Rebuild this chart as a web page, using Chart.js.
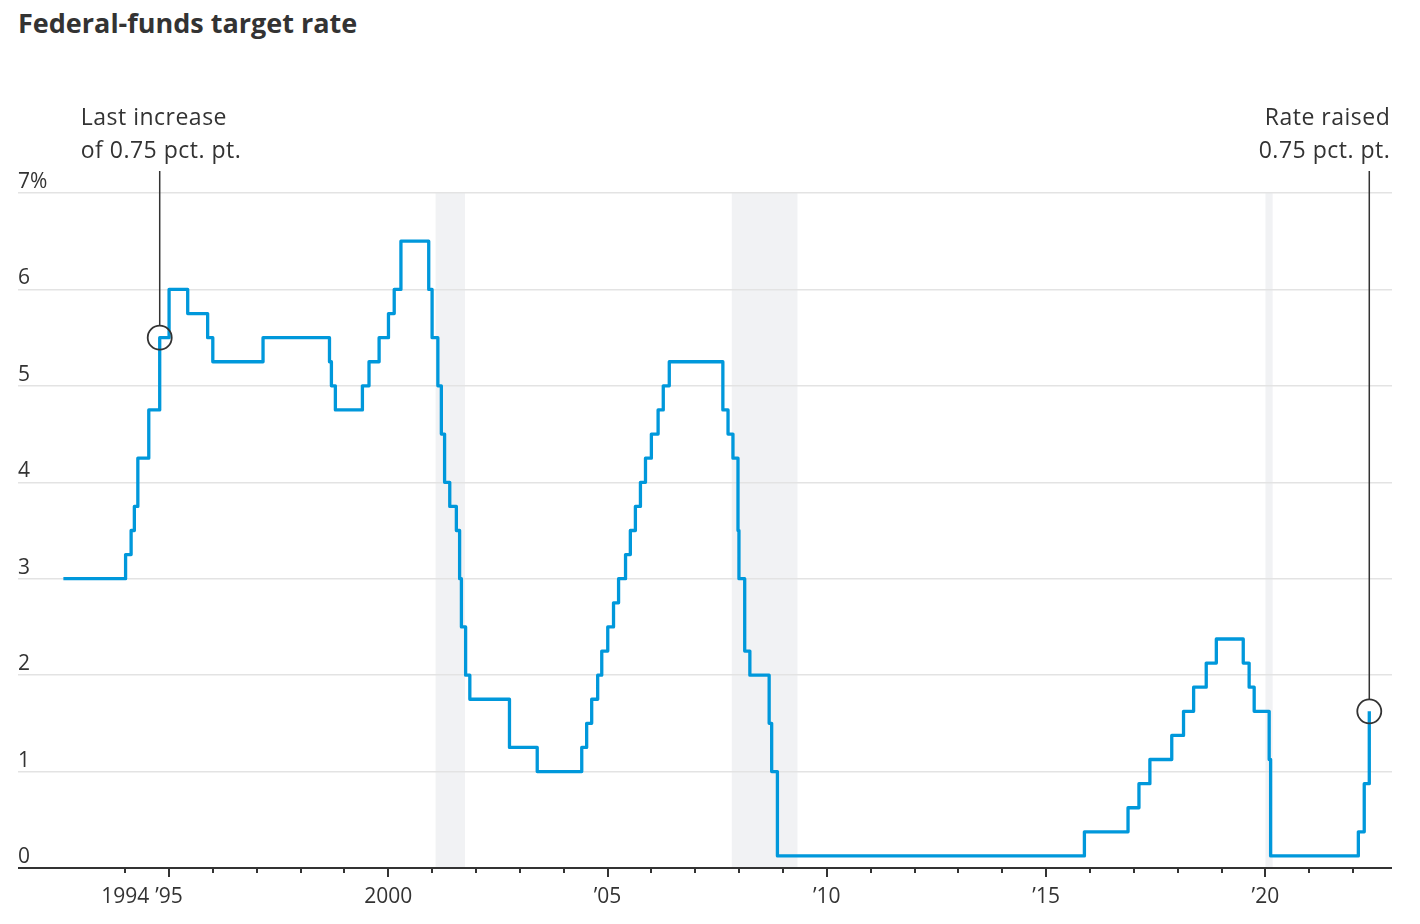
<!DOCTYPE html>
<html>
<head>
<meta charset="utf-8">
<title>Federal-funds target rate</title>
<script src="https://cdn.jsdelivr.net/npm/chart.js@4.4.1/dist/chart.umd.min.js"></script>
<style>
  html, body { margin: 0; padding: 0; background: #fff; }
  #wrap { position: relative; width: 1420px; height: 924px; }
  #chart { position: absolute; left: 0; top: 0; }
  h1 {
    position: absolute; left: 18px; top: 9px; margin: 0;
    font: 700 27px/27px "Open Sans", sans-serif; color: #333;
  }
</style>
</head>
<body>
<div id="wrap">
  <h1>Federal-funds target rate</h1>
  <canvas id="chart" width="1420" height="924"></canvas>
</div>
<script>
// target rate changes (after 2008: midpoint of the target range)
const RATE_DATES = [
  '1992-09-04', '1994-02-04', '1994-03-22', '1994-04-18', '1994-05-17', '1994-08-16',
  '1994-11-15', '1995-02-01', '1995-07-06', '1995-12-19', '1996-01-31', '1997-03-25',
  '1998-09-29', '1998-10-15', '1998-11-17', '1999-06-30', '1999-08-24', '1999-11-16',
  '2000-02-02', '2000-03-21', '2000-05-16', '2001-01-03', '2001-01-31', '2001-03-20',
  '2001-04-18', '2001-05-15', '2001-06-27', '2001-08-21', '2001-09-17', '2001-10-02',
  '2001-11-06', '2001-12-11', '2002-11-06', '2003-06-25', '2004-06-30', '2004-08-10',
  '2004-09-21', '2004-11-10', '2004-12-14', '2005-02-02', '2005-03-22', '2005-05-03',
  '2005-06-30', '2005-08-09', '2005-09-20', '2005-11-01', '2005-12-13', '2006-01-31',
  '2006-03-28', '2006-05-10', '2006-06-29', '2007-09-18', '2007-10-31', '2007-12-11',
  '2008-01-22', '2008-01-30', '2008-03-18', '2008-04-30', '2008-10-08', '2008-10-29',
  '2008-12-16', '2015-12-16', '2016-12-14', '2017-03-15', '2017-06-14', '2017-12-13',
  '2018-03-21', '2018-06-13', '2018-09-26', '2018-12-19', '2019-07-31', '2019-09-18',
  '2019-10-30', '2020-03-03', '2020-03-15', '2022-03-16', '2022-05-04', '2022-06-15'
];
const RATE_VALUES = [
  3.00, 3.25, 3.50, 3.75, 4.25, 4.75,
  5.50, 6.00, 5.75, 5.50, 5.25, 5.50,
  5.25, 5.00, 4.75, 5.00, 5.25, 5.50,
  5.75, 6.00, 6.50, 6.00, 5.50, 5.00,
  4.50, 4.00, 3.75, 3.50, 3.00, 2.50,
  2.00, 1.75, 1.25, 1.00, 1.25, 1.50,
  1.75, 2.00, 2.25, 2.50, 2.75, 3.00,
  3.25, 3.50, 3.75, 4.00, 4.25, 4.50,
  4.75, 5.00, 5.25, 4.75, 4.50, 4.25,
  3.50, 3.00, 2.25, 2.00, 1.50, 1.00,
  0.125, 0.375, 0.625, 0.875, 1.125, 1.375,
  1.625, 1.875, 2.125, 2.375, 2.125, 1.875,
  1.625, 1.125, 0.125, 0.375, 0.875, 1.625
];

// recessions (shaded)
const RECESSION_START = ['2001-03-01', '2007-12-01', '2020-02-01'];
const RECESSION_END = ['2001-11-01', '2009-06-01', '2020-04-01'];

// x axis
const TICK_YEARS = [1994, 1995, 1996, 1997, 1998, 1999, 2000, 2001, 2002, 2003, 2004, 2005,
  2006, 2007, 2008, 2009, 2010, 2011, 2012, 2013, 2014, 2015, 2016, 2017, 2018, 2019,
  2020, 2021, 2022];
const MAJOR_YEARS = [1995, 2000, 2005, 2010, 2015, 2020];
const LABEL_YEARS = [1994, 1995, 2000, 2005, 2010, 2015, 2020];
const LABEL_TEXT = ['1994', '\u201995', '2000', '\u201905', '\u201910', '\u201915', '\u201920'];

// y axis
const Y_TICKS = [0, 1, 2, 3, 4, 5, 6, 7];

// callouts
const NOTE_DATES = ['1994-11-15', '2022-06-15'];
const NOTE_VALUES = [5.5, 1.625];
const NOTE_LINES = [['Last increase', 'of 0.75 pct. pt.'], ['Rate raised', '0.75 pct. pt.']];

const INK = '#333';
const FONT = '"Open Sans", sans-serif';

function toYear(d) {
  const [y, m, dd] = d.split('-').map(Number);
  const s = Date.UTC(y, 0, 1), e = Date.UTC(y + 1, 0, 1);
  return y + (Date.UTC(y, m - 1, dd) - s) / (e - s);
}
// year ticks sit about a month into the year, as in the source graphic
const TICK_SHIFT = 1 / 12;

const recessionPlugin = {
  id: 'recessions',
  beforeDraw(chart) {
    const {ctx, scales: {x, y}} = chart;
    ctx.save();
    ctx.fillStyle = '#f1f2f4';
    RECESSION_START.forEach((s, i) => {
      const x0 = x.getPixelForValue(toYear(s));
      const x1 = x.getPixelForValue(toYear(RECESSION_END[i]));
      const y0 = y.getPixelForValue(7), y1 = y.getPixelForValue(0);
      ctx.fillRect(x0, y0, x1 - x0, y1 - y0);
    });
    ctx.restore();
  }
};

const axisPlugin = {
  id: 'axisTicks',
  afterDatasetsDraw(chart) {
    const {ctx, chartArea, scales: {x, y}} = chart;
    const base = y.getPixelForValue(0);
    ctx.save();
    ctx.strokeStyle = INK;
    ctx.lineWidth = 2;
    ctx.beginPath();
    ctx.moveTo(chartArea.left, base);
    ctx.lineTo(chartArea.right, base);
    TICK_YEARS.forEach(yr => {
      const px = Math.round(x.getPixelForValue(yr + TICK_SHIFT));
      const len = MAJOR_YEARS.includes(yr) ? 9 : 5;
      ctx.moveTo(px, base);
      ctx.lineTo(px, base + len);
    });
    ctx.stroke();
    ctx.restore();
  }
};

const notePlugin = {
  id: 'notes',
  afterDatasetsDraw(chart) {
    const {ctx, scales: {x, y}} = chart;
    ctx.save();
    NOTE_DATES.forEach((d, i) => {
      const cx = x.getPixelForValue(toYear(d));
      const cy = y.getPixelForValue(NOTE_VALUES[i]);
      const r = 12;
      ctx.strokeStyle = INK;
      ctx.lineWidth = 1.8;
      ctx.beginPath();
      ctx.arc(cx, cy, r, 0, Math.PI * 2);
      ctx.stroke();
      ctx.lineWidth = 1.5;
      ctx.beginPath();
      ctx.moveTo(cx, 171);
      ctx.lineTo(cx, cy - r);
      ctx.stroke();
      ctx.fillStyle = INK;
      ctx.font = '23px ' + FONT;
      ctx.letterSpacing = '0.5px';
      ctx.textBaseline = 'alphabetic';
      const right = i === 1;
      ctx.textAlign = right ? 'right' : 'left';
      const tx = right ? cx + 21 : cx - 79;
      NOTE_LINES[i].forEach((t, j) => ctx.fillText(t, tx, 125 + j * 33));
    });
    ctx.restore();
  }
};

new Chart(document.getElementById('chart'), {
  type: 'line',
  data: {
    datasets: [{
      data: RATE_DATES.map((d, i) => ({x: toYear(d), y: RATE_VALUES[i]})),
      stepped: true,
      borderColor: '#0098db',
      borderWidth: 3.3,
      borderJoinStyle: 'round',
      pointRadius: 0,
      fill: false
    }]
  },
  options: {
    responsive: false,
    animation: false,
    layout: {padding: {top: 193, left: 18, right: 28, bottom: 0}},
    plugins: {legend: {display: false}, tooltip: {enabled: false}},
    scales: {
      x: {
        type: 'linear',
        min: 1991.64,
        max: 2022.97,
        afterBuildTicks: s => { s.ticks = TICK_YEARS.map(yr => ({value: yr + TICK_SHIFT})); },
        afterFit: s => { s.height = 56; },
        grid: {display: false, drawTicks: false},
        border: {display: false},
        ticks: {
          autoSkip: false,
          maxRotation: 0,
          padding: 16,
          color: INK,
          font: {family: FONT, size: 21},
          callback: (v, i) => {
            const k = LABEL_YEARS.indexOf(TICK_YEARS[i]);
            return k < 0 ? '' : LABEL_TEXT[k];
          }
        }
      },
      y: {
        min: 0,
        max: 7,
        afterBuildTicks: s => { s.ticks = Y_TICKS.map(v => ({value: v})); },
        afterFit: s => { s.width = 0; },
        grid: {color: '#e3e3e3', lineWidth: 1.5, drawTicks: false},
        border: {display: false},
        ticks: {
          mirror: true,
          padding: 0,
          labelOffset: -11,
          color: INK,
          font: {family: FONT, size: 21},
          callback: v => v === 7 ? '7%' : String(v)
        }
      }
    }
  },
  plugins: [recessionPlugin, axisPlugin, notePlugin]
});
</script>
</body>
</html>
